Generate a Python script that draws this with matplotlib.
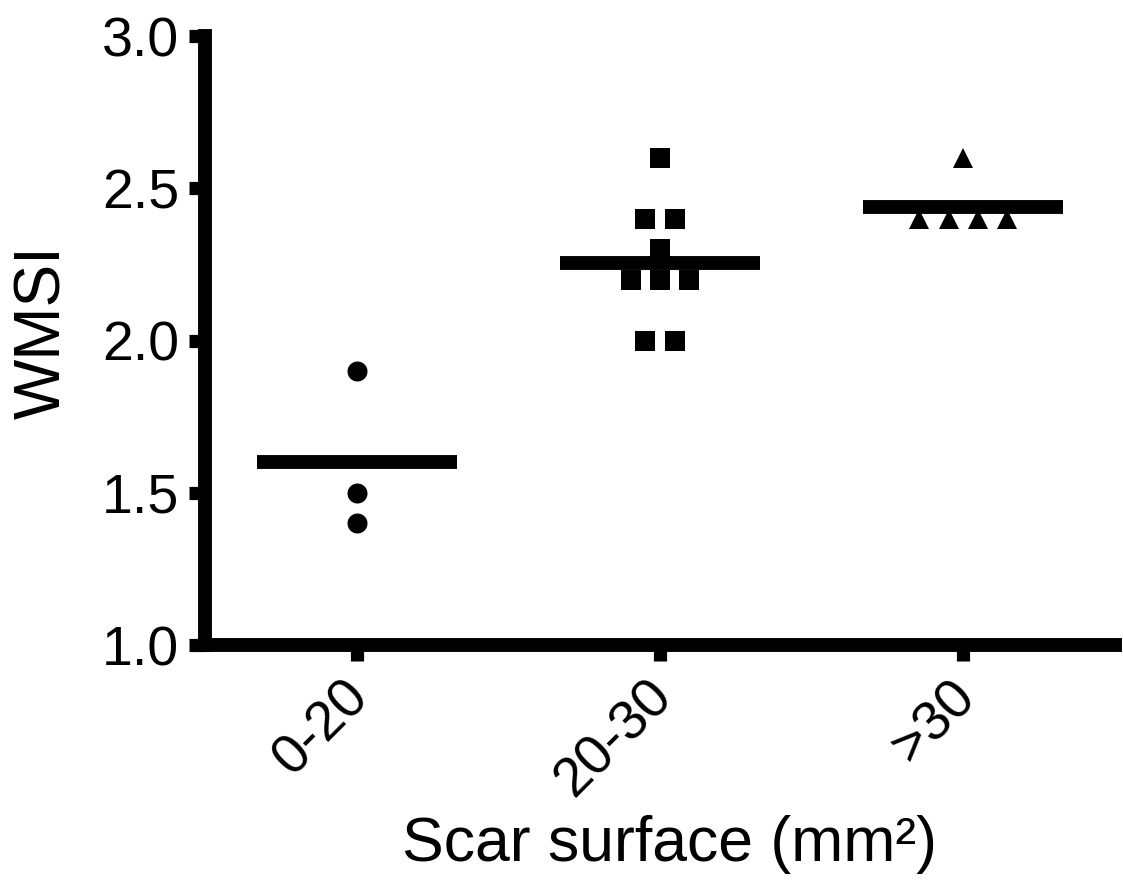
import numpy as np
import matplotlib
matplotlib.use('Agg')
import matplotlib.pyplot as plt
from matplotlib.transforms import ScaledTranslation

plt.rcParams['font.family'] = ['Liberation Sans', 'DejaVu Sans']

groups = ['0-20', '20-30', '>30']
wmsi_0_20 = [1.9, 1.5, 1.4]
wmsi_20_30 = [2.6, 2.4, 2.4, 2.3, 2.2, 2.2, 2.2, 2.0, 2.0]
wmsi_gt30 = [2.6, 2.4, 2.4, 2.4, 2.4]

series = [wmsi_0_20, wmsi_20_30, wmsi_gt30]
markers = ['o', 's', '^']


def spread(vals, step=0.097):
    # side-by-side offsets for tied values, like a column scatter
    vals = np.asarray(vals)
    offs = np.zeros(len(vals))
    for v in np.unique(vals):
        idx = np.where(vals == v)[0]
        n = len(idx)
        offs[idx] = (np.arange(n) - (n - 1) / 2) * step
    return offs


fig = plt.figure(figsize=(11.23, 8.83), dpi=100)
ax = fig.add_axes([0.1825, 0.2695, 0.8103, 0.6897])

for i, (vals, m) in enumerate(zip(series, markers)):
    x = i + spread(vals)
    ax.plot(x, vals, linestyle='none', marker=m, color='black',
            markersize=14.4, markeredgewidth=0, zorder=3)
    mean = np.mean(vals)
    ax.plot([i - 0.33, i + 0.33], [mean, mean], color='black',
            linewidth=10, solid_capstyle='butt', zorder=2)

ax.set_xlim(-0.5, 2.5)
ax.set_ylim(1.0, 3.0)
ax.set_yticks([1.0, 1.5, 2.0, 2.5, 3.0])
ax.set_yticklabels(['1.0', '1.5', '2.0', '2.5', '3.0'])
ax.set_xticks(range(len(groups)))
ax.set_xticklabels(groups, rotation=45, ha='right', va='center',
                   rotation_mode='anchor')

for side in ['top', 'right']:
    ax.spines[side].set_visible(False)
for side in ['left', 'bottom']:
    ax.spines[side].set_linewidth(10)
    ax.spines[side].set_capstyle('projecting')

ax.tick_params(axis='both', direction='out', length=11.5, width=9.5,
               color='black', labelsize=40)
ax.tick_params(axis='y', pad=7)
ax.tick_params(axis='x', pad=20)
for lbl in ax.get_xticklabels():
    lbl.set_transform(lbl.get_transform() +
                      ScaledTranslation(4 / 100, 0, fig.dpi_scale_trans))

ax.set_ylabel('WMSI', fontsize=46, va='baseline')
ax.yaxis.set_label_coords(-0.1593, 0.514)
ax.set_xlabel('Scar surface (mm²)', fontsize=45, va='baseline')
ax.xaxis.set_label_coords(0.511, -0.3547)

fig.savefig('out.png', dpi=100)
